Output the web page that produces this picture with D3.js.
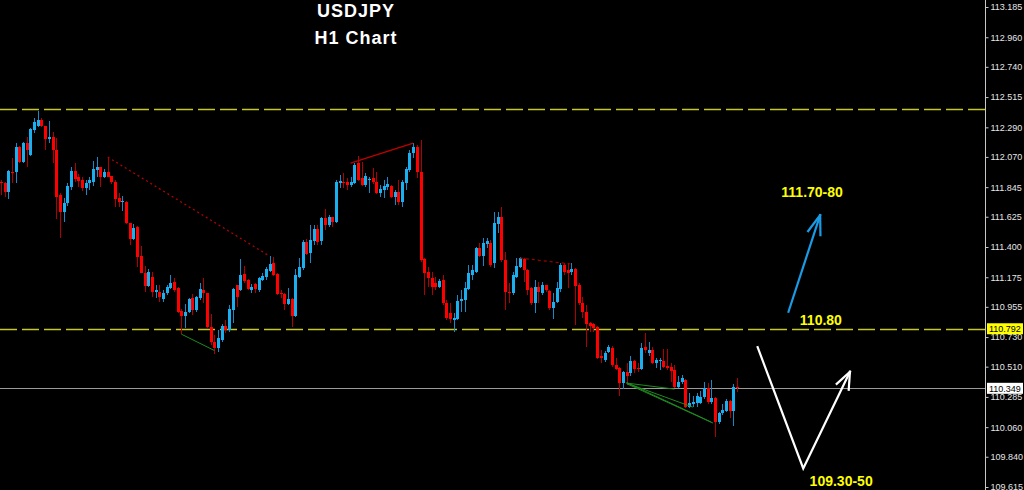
<!DOCTYPE html>
<html><head><meta charset="utf-8">
<script src="https://cdn.jsdelivr.net/npm/d3@7"></script>
<style>html,body{margin:0;padding:0;background:#000;overflow:hidden}</style>
</head><body><svg id="c" width="1024" height="490"></svg>
<script>
const open=[111.883,111.876,111.809,111.958,111.958,112.143,112.032,112.173,112.084,112.270,
112.300,112.344,112.300,112.203,112.218,112.121,111.786,111.660,111.727,111.846,
111.965,111.920,111.898,111.838,111.876,111.883,111.973,111.995,111.920,111.958,
111.928,111.883,111.764,111.734,111.734,111.578,111.459,111.548,111.332,111.206,
111.109,111.176,111.065,111.065,111.013,111.057,111.094,111.139,111.094,110.923,
110.886,110.916,111.020,110.931,111.020,111.080,111.057,110.804,110.693,110.648,
110.708,110.812,110.783,110.931,111.117,111.080,111.198,111.154,111.080,111.124,
111.080,111.154,111.176,111.221,111.280,111.198,111.057,111.050,110.975,111.013,
110.886,111.176,111.243,111.437,111.355,111.444,111.533,111.444,111.615,111.563,
111.623,111.585,111.876,111.883,111.883,111.861,111.876,112.024,111.913,111.861,
111.898,111.913,111.883,111.801,111.824,111.846,111.853,111.771,111.809,111.734,
111.876,111.973,112.099,112.143,111.958,111.310,111.213,111.169,111.132,111.102,
111.154,110.983,110.908,110.857,110.864,110.998,111.006,111.087,111.191,111.213,
111.392,111.332,111.422,111.429,111.280,111.571,111.623,111.303,111.065,111.057,
111.176,111.251,111.310,111.229,111.094,110.983,111.102,111.057,111.117,111.072,
110.946,110.990,111.087,111.266,111.229,111.213,111.236,111.117,110.983,110.916,
110.834,110.827,110.804,110.589,110.560,110.618,110.648,110.522,110.500,110.388,
110.470,110.463,110.552,110.500,110.492,110.655,110.611,110.634,110.537,110.552,
110.552,110.515,110.507,110.485,110.358,110.396,110.411,110.209,110.232,110.239,
110.239,110.284,110.351,110.247,110.276,110.098,110.165,110.180,110.254,110.180,
110.358];
const high=[111.898,111.883,111.973,112.062,112.173,112.151,112.180,112.218,112.285,112.359,
112.411,112.359,112.300,112.337,112.255,112.210,111.801,111.764,111.876,111.995,
112.024,111.943,111.920,111.898,111.920,112.039,112.069,111.995,111.980,112.069,
111.928,111.898,111.801,111.779,111.742,111.578,111.571,111.556,111.407,111.258,
111.236,111.213,111.117,111.117,111.080,111.117,111.191,111.169,111.102,110.938,
110.975,111.020,111.050,111.035,111.132,111.169,111.057,110.901,110.745,110.783,
110.827,110.857,110.968,111.094,111.117,111.310,111.258,111.161,111.124,111.132,
111.176,111.206,111.251,111.332,111.325,111.206,111.080,111.057,111.094,111.020,
111.236,111.318,111.452,111.459,111.563,111.563,111.563,111.623,111.682,111.638,
111.623,111.898,111.935,111.950,111.913,111.920,112.024,112.077,112.032,111.950,
111.920,111.987,111.958,111.861,111.898,111.920,111.861,111.824,111.898,111.898,
111.995,112.121,112.173,112.158,112.196,111.318,111.251,111.213,111.176,111.161,
111.191,111.006,110.983,110.908,111.042,111.080,111.139,111.266,111.266,111.400,
111.429,111.466,111.466,111.452,111.660,111.660,111.697,111.362,111.132,111.213,
111.318,111.325,111.318,111.236,111.102,111.154,111.139,111.139,111.117,111.080,
111.057,111.139,111.280,111.280,111.280,111.280,111.243,111.132,111.028,110.968,
110.842,110.834,110.812,110.634,110.626,110.670,110.663,110.574,110.507,110.477,
110.537,110.589,110.560,110.537,110.685,110.760,110.693,110.655,110.574,110.574,
110.641,110.641,110.537,110.522,110.440,110.448,110.418,110.314,110.291,110.314,
110.329,110.396,110.388,110.411,110.284,110.172,110.232,110.269,110.262,110.381,
110.426];
const low=[111.786,111.771,111.757,111.876,111.876,112.024,112.024,111.995,112.077,112.248,
112.292,112.292,112.121,112.173,112.024,111.608,111.466,111.586,111.705,111.824,
111.883,111.846,111.816,111.786,111.824,111.853,111.920,111.846,111.913,111.920,
111.868,111.697,111.697,111.667,111.571,111.414,111.452,111.251,111.206,111.065,
111.102,111.028,111.020,110.990,110.990,111.042,111.087,111.065,110.908,110.752,
110.797,110.908,110.893,110.916,111.006,110.983,110.797,110.670,110.603,110.618,
110.693,110.760,110.767,110.834,110.953,111.072,111.132,111.080,111.057,111.057,
111.065,111.147,111.154,111.213,111.184,111.042,111.020,110.931,110.968,110.804,
110.879,111.169,111.229,111.340,111.280,111.414,111.414,111.414,111.526,111.548,
111.548,111.578,111.838,111.838,111.824,111.846,111.868,111.890,111.853,111.846,
111.801,111.868,111.794,111.771,111.764,111.824,111.764,111.712,111.712,111.697,
111.824,111.958,112.062,111.913,111.288,111.042,111.102,111.042,111.080,111.094,
110.968,110.857,110.834,110.767,110.857,110.916,110.916,111.080,111.154,111.206,
111.325,111.258,111.392,111.251,111.243,111.504,111.288,110.931,110.983,111.042,
111.169,111.243,111.139,111.042,110.968,110.908,110.983,111.042,111.065,110.931,
110.864,110.983,111.065,111.191,111.094,111.191,110.819,110.968,110.871,110.655,
110.767,110.767,110.566,110.537,110.544,110.611,110.507,110.485,110.291,110.344,
110.374,110.440,110.463,110.470,110.485,110.611,110.589,110.529,110.500,110.485,
110.500,110.485,110.396,110.351,110.351,110.381,110.202,110.202,110.209,110.209,
110.232,110.269,110.232,110.232,109.986,110.083,110.150,110.172,110.128,110.068,
110.321];
const close=[111.876,111.809,111.965,111.950,112.143,112.032,112.173,112.121,112.277,112.329,
112.344,112.300,112.203,112.218,112.121,111.771,111.660,111.727,111.853,111.965,
111.905,111.890,111.838,111.876,111.898,111.980,111.995,111.920,111.958,111.920,
111.883,111.757,111.734,111.742,111.578,111.459,111.541,111.325,111.206,111.109,
111.213,111.065,111.080,111.028,111.057,111.102,111.132,111.080,110.916,110.886,
110.916,111.013,110.931,111.028,111.087,111.057,110.804,110.693,110.648,110.722,
110.812,110.783,110.938,111.087,111.028,111.191,111.147,111.087,111.102,111.087,
111.169,111.184,111.236,111.273,111.191,111.050,111.050,110.975,111.013,110.886,
111.191,111.251,111.437,111.347,111.452,111.533,111.437,111.615,111.563,111.623,
111.585,111.883,111.890,111.876,111.861,111.883,112.010,111.898,111.861,111.928,
111.905,111.883,111.801,111.831,111.853,111.868,111.771,111.809,111.734,111.883,
111.980,112.099,112.143,111.958,111.303,111.206,111.169,111.102,111.102,111.147,
110.983,110.871,110.864,110.871,110.998,111.013,111.094,111.206,111.229,111.392,
111.332,111.429,111.444,111.266,111.578,111.623,111.303,111.065,111.057,111.191,
111.258,111.318,111.229,111.080,110.983,111.102,111.065,111.117,111.080,110.946,
110.990,111.094,111.266,111.213,111.206,111.236,111.109,110.983,110.916,110.827,
110.812,110.797,110.574,110.574,110.611,110.655,110.522,110.492,110.388,110.470,
110.440,110.552,110.492,110.492,110.648,110.634,110.634,110.537,110.560,110.560,
110.507,110.500,110.477,110.358,110.396,110.426,110.209,110.239,110.247,110.291,
110.284,110.351,110.247,110.276,110.098,110.165,110.188,110.254,110.180,110.358,
110.349];

const axisTicks=[113.185,112.960,112.740,112.515,112.290,112.070,111.845,111.625,111.400,111.175,110.955,110.730,110.510,110.285,110.060,109.840,109.615];
const levelLines=[112.426,110.792];
const levelTag=110.792;
const currentPrice=110.349;
const redDotted1=[[29,112.069],[73,111.332]];
const redSolid=[[95,112.024],[112,112.173]];
const redDotted2=[[141,111.318],[155,111.273]];
const greenLines=[[[49,110.752],[58,110.630]],[[170,110.388],[183,110.343]],[[170,110.388],[188,110.209]],[[170,110.392],[193,110.098]],[[170,110.384],[193.5,110.090]]];
const blueArrow=[[213.9,110.911],[222.6,111.637]];
const whitePath=[[205.5,110.663],[218.0,109.753],[230.7,110.472]];
const labels=[{t:"111.70-80",i:220.4,p:111.772},{t:"110.80",i:222.8,p:110.820},{t:"109.30-50",i:228.3,p:109.620}];
const titleLines=["USDJPY","H1 Chart"];

const svg=d3.select("#c");
svg.append("rect").attr("width",1024).attr("height",490).attr("fill","#000");
const x=d3.scaleLinear().domain([0,200]).range([1,737]);
const y=d3.scaleLinear().domain([109.615,113.185]).range([487,7]);
const AX=985;
const FONT="Liberation Sans, Arial, sans-serif";

svg.selectAll(".lvl").data(levelLines).join("line")
 .attr("x1",0).attr("x2",AX).attr("y1",d=>Math.round(y(d))+0.5).attr("y2",d=>Math.round(y(d))+0.5)
 .attr("stroke","#c8c81e").attr("stroke-width",1.6).attr("stroke-dasharray","17,5");
svg.append("line").attr("x1",0).attr("x2",AX).attr("y1",Math.round(y(currentPrice))+0.5).attr("y2",Math.round(y(currentPrice))+0.5)
 .attr("stroke","#9a9a9a").attr("stroke-width",1);

const idx=d3.range(close.length);
const g=svg.append("g").attr("shape-rendering","crispEdges");
g.selectAll(".w").data(idx).join("line")
 .attr("x1",i=>Math.round(x(i))+0.5).attr("x2",i=>Math.round(x(i))+0.5)
 .attr("y1",i=>y(high[i])).attr("y2",i=>y(low[i]))
 .attr("stroke",i=>close[i]>=open[i]?"#1788c8":"#b00000").attr("stroke-width",1);
g.selectAll(".b").data(idx).join("rect")
 .attr("x",i=>Math.round(x(i))-1).attr("width",3)
 .attr("y",i=>y(Math.max(open[i],close[i])))
 .attr("height",i=>Math.max(1,Math.abs(y(open[i])-y(close[i]))))
 .attr("fill",i=>close[i]>=open[i]?"#1ab0f0":"#ff0000");

const ln=d3.line().x(d=>x(d[0])).y(d=>y(d[1]));
svg.append("path").attr("d",ln(redDotted1)).attr("stroke","#c00000").attr("stroke-width",1.2).attr("stroke-dasharray","2,3").attr("fill","none");
svg.append("path").attr("d",ln(redSolid)).attr("stroke","#c00000").attr("stroke-width",1.2).attr("fill","none");
svg.append("path").attr("d",ln(redDotted2)).attr("stroke","#a00000").attr("stroke-width",1.2).attr("stroke-dasharray","3,3").attr("fill","none");
svg.selectAll(".gr").data(greenLines).join("path").attr("d",d=>ln(d)).attr("stroke","#1e8c1e").attr("stroke-width",1).attr("fill","none");

function arrow(pts,color,w,ang,len){
  svg.append("path").attr("d",ln(pts)).attr("stroke",color).attr("stroke-width",w).attr("fill","none").attr("stroke-linejoin","miter");
  const a=pts[pts.length-2], b=pts[pts.length-1];
  const ax=x(a[0]),ay=y(a[1]),bx=x(b[0]),by=y(b[1]);
  const th=Math.atan2(ay-by,ax-bx);
  [ang,-ang].forEach(s=>{
    svg.append("line").attr("x1",bx).attr("y1",by)
      .attr("x2",bx+len*Math.cos(th+s)).attr("y2",by+len*Math.sin(th+s))
      .attr("stroke",color).attr("stroke-width",w).attr("stroke-linecap","square");
  });
}
arrow(blueArrow,"#1a9be6",2.2,0.33,20);
arrow(whitePath,"#ffffff",2.2,0.38,18);

svg.selectAll(".lb").data(labels).join("text")
 .attr("x",d=>x(d.i)).attr("y",d=>y(d.p)).attr("text-anchor","middle")
 .attr("font-family",FONT).attr("font-weight","bold").attr("font-size",14)
 .attr("fill","#ffff00").text(d=>d.t);

svg.selectAll(".tt").data(titleLines).join("text")
 .attr("x",356).attr("y",(d,i)=>17+i*27).attr("text-anchor","middle")
 .attr("font-family",FONT).attr("font-weight","bold").attr("font-size",18)
 .attr("letter-spacing",1).attr("fill","#fff").text(d=>d);

svg.append("line").attr("x1",AX+0.5).attr("x2",AX+0.5).attr("y1",0).attr("y2",490).attr("stroke","#c8c8c8").attr("stroke-width",1);
const axis=d3.axisRight(y).tickValues(axisTicks).tickSize(3).tickPadding(2).tickFormat(d3.format(".3f"));
const ag=svg.append("g").attr("transform",`translate(${AX+0.5},0)`).call(axis);
ag.select(".domain").remove();
ag.selectAll("line").attr("stroke","#c8c8c8");
ag.selectAll("text").attr("fill","#e6e6e6").attr("font-family",FONT).attr("font-size",9);

function tag(p,bg){
  const yy=y(p);
  svg.append("rect").attr("x",AX+2).attr("y",yy-5.5).attr("width",36).attr("height",11).attr("fill",bg);
  svg.append("text").attr("x",AX+4).attr("y",yy+3.3).attr("font-family",FONT).attr("font-size",9).attr("fill","#000").text(d3.format(".3f")(p));
}
tag(levelTag,"#ffff00");
tag(currentPrice,"#ffffff");
</script></body></html>
